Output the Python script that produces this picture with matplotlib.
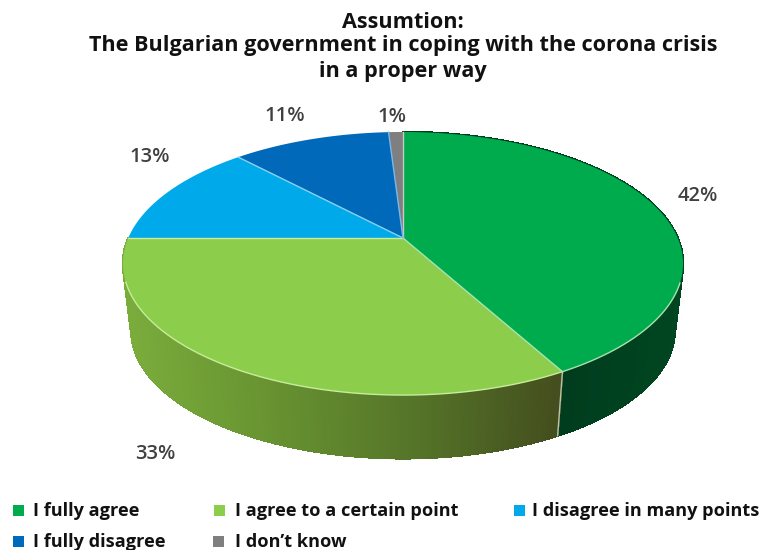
import numpy as np
from matplotlib import pyplot as plt
from matplotlib.collections import LineCollection, PolyCollection
from matplotlib.patches import Rectangle

# survey answers, clockwise from twelve o'clock
answers = ["I fully agree", "I agree to a certain point", "I disagree in many points",
           "I fully disagree", "I don\u2019t know"]
shares = [42, 33, 13, 11, 1]
title_lines = ["Assumtion:", "The Bulgarian government in coping with the corona crisis", "in a proper way"]

colors = ["#00AB4E", "#8CCE4B", "#00AAEA", "#0069BA", "#7F7F7F"]
rim_colors = ["#A6E3AE", "#C6EC9C", "#86D2F2", "#7DB6E4", "#C8C8C8"]
label_pos = [(698, 196), (155, 454), (150, 157), (285, 116), (392, 117)]

plt.rcParams['font.family'] = ['Open Sans', 'DejaVu Sans']

fig = plt.figure(figsize=(7.6, 5.5), dpi=100)
ax = fig.add_axes([0, 0, 1, 1])
ax.set_xlim(0, 760)
ax.set_ylim(550, 0)
ax.axis('off')

# pie tilted in perspective: unit disc -> screen
APEX_X, APEX_Y = 403, 238
SX, SY, K = 274.7, 126.6, 0.194
DEPTH, SHRINK = 68, 0.97


def project(theta, r=1.0, lower=False):
    px = r * np.sin(theta)
    py = r * np.cos(theta)
    w = 1 + K * py
    dx = SX * px / w
    dy = SY * py / w
    if lower:
        return APEX_X + SHRINK * dx, APEX_Y + DEPTH - SHRINK * dy
    return APEX_X + dx, APEX_Y - dy


edges = np.radians(np.cumsum([0] + shares) / sum(shares) * 360)


def side_color(i, x):
    # side wall gets darker towards the right
    if i == 0:
        stops = ([558, 680], [[0, 60, 30], [0, 70, 32]])
    else:
        stops = ([125, 250, 420, 558], [[122, 172, 60], [106, 150, 50], [84, 115, 40], [68, 78, 30]])
    xs, rgb = stops
    rgb = np.array(rgb) / 255
    return [np.interp(x, xs, rgb[:, c]) for c in range(3)]


# side wall strips for the two front slices
for i in [0, 1]:
    t = np.linspace(edges[i], edges[i + 1], 260)
    xt, yt = project(t)
    xb, yb = project(t, lower=True)
    quads = []
    cols = []
    segs = []
    for j in range(len(t) - 1):
        quads.append([(xt[j], yt[j]), (xt[j + 1], yt[j + 1]), (xb[j + 1], yb[j + 1]), (xb[j], yb[j])])
        segs.append([(xb[j], yb[j]), (xb[j + 1], yb[j + 1])])
        cols.append(side_color(i, (xt[j] + xt[j + 1]) / 2))
    ax.add_collection(PolyCollection(quads, facecolors=cols, edgecolors=cols, linewidths=1.0,
                                     antialiaseds=False, zorder=1))
    # smooth lower edge over the hard strip ends
    ax.add_collection(LineCollection(segs, colors=cols, linewidths=1.2, zorder=1.5))

# light seam between the two walls
xt, yt = project(edges[1])
xb, yb = project(edges[1], lower=True)
ax.plot([xt, xb], [yt, yb], color="#B9C4A8", lw=1.0, zorder=2)

# top faces
for i in range(len(shares)):
    t = np.linspace(edges[i], edges[i + 1], 200)
    x, y = project(t)
    ax.fill(np.r_[APEX_X, x], np.r_[APEX_Y, y], color=colors[i], lw=0, zorder=3)

# rim on the front, thin spokes between slices
for i in [0, 1]:
    t = np.linspace(edges[i], edges[i + 1], 200)
    x, y = project(t)
    keep = y > 282
    ax.plot(x[keep], y[keep], color=rim_colors[i], lw=1.0, zorder=4)
for i in range(len(shares)):
    x, y = project(edges[i])
    ax.plot([APEX_X, x], [APEX_Y, y], color=rim_colors[(i - 1) % len(shares)], lw=1.0, zorder=4)

# value labels
for v, (lx, ly) in zip(shares, label_pos):
    ax.text(lx, ly, f"{v}%", ha='center', va='center', fontsize=14.5, fontweight=600, color="#404040", zorder=5)

# heading
for line, yy in zip(title_lines, [22, 46, 71]):
    ax.text(403, yy, line, ha='center', va='center', fontsize=15.6, fontweight='bold', color="#111111")

# legend in two rows
legend_x = [(13, 33), (214, 235), (514, 532), (13, 33), (213, 235)]
legend_y = [516, 516, 516, 547, 547]
for i, name in enumerate(answers):
    bx, tx = legend_x[i]
    ax.add_patch(Rectangle((bx, legend_y[i] - 11), 11, 11, color=colors[i], lw=0))
    ax.text(tx, legend_y[i], name, ha='left', va='baseline', fontsize=13.05, fontweight='bold', color="#111111")

fig.savefig("out.png", dpi=100)
